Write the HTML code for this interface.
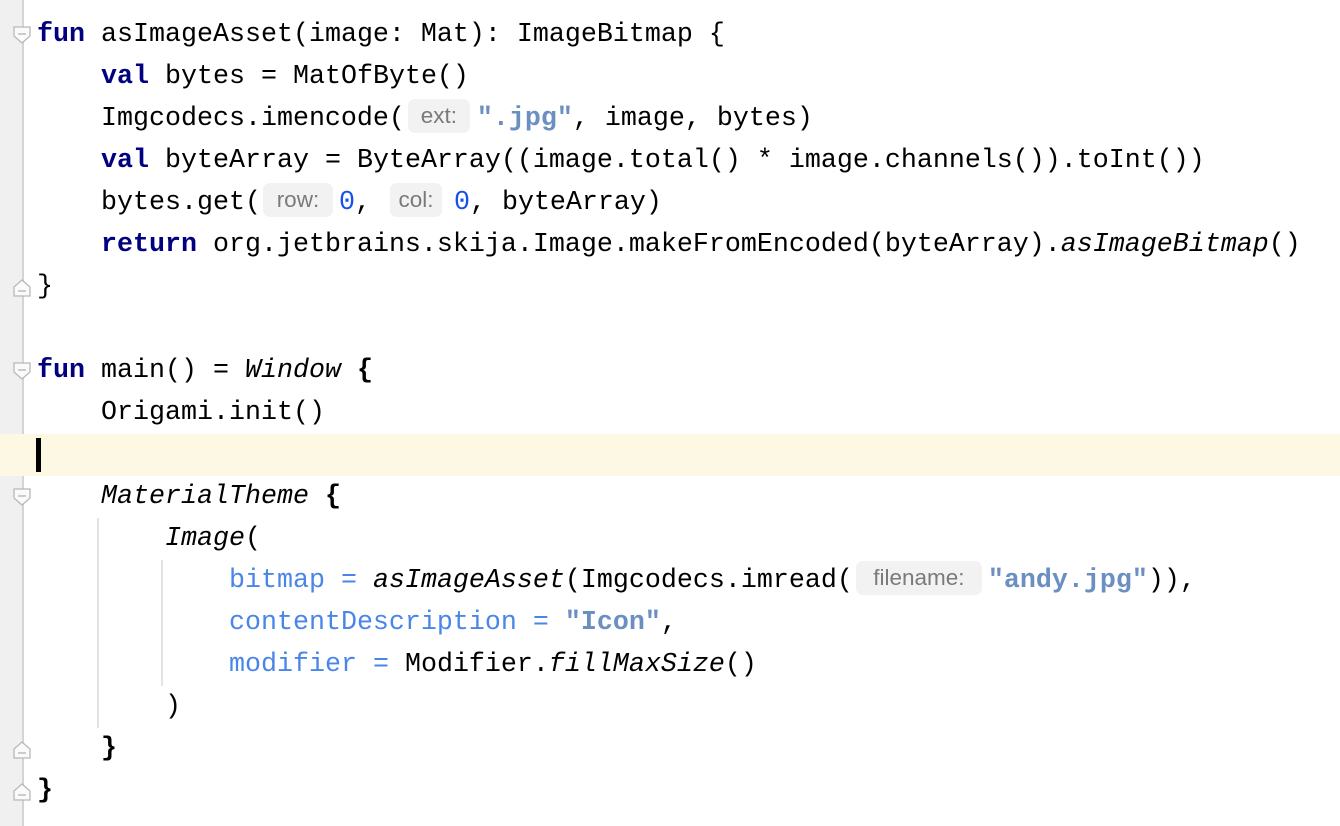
<!DOCTYPE html>
<html><head><meta charset="utf-8"><style>
body{margin:0;width:1340px;height:826px;background:#fff;position:relative;overflow:hidden;font-family:"Liberation Mono",monospace;}
.g{position:absolute;left:0;top:0;width:22px;height:826px;background:#f0f0f0;border-right:2px solid #d4d4d4;}
.hl{position:absolute;left:0;top:434px;width:1340px;height:42px;background:#fdf8e4;}
.l{position:absolute;left:37px;height:42px;line-height:42px;font-size:26.67px;color:#000;white-space:pre;}
.k{color:#000080;font-weight:bold}
.s{color:#6a8fc0;font-weight:bold}
.n{color:#1750eb}
.a{color:#4a86e8}
.i{font-style:italic}
.b{font-weight:bold}
.h{display:inline-block;height:34px;line-height:34px;vertical-align:middle;background:#f2f2f2;border-radius:7px;color:#7a7a7a;font-family:"Liberation Sans",sans-serif;font-size:22.5px;text-align:center;position:relative;top:-2px}
.ig{position:absolute;width:2px;background:#e4e4e4}
</style></head><body>
<div class="g"></div>
<div class="hl"></div>
<div style="position:absolute;left:36px;top:438px;width:5px;height:34px;background:#000"></div>
<div class="ig" style="left:97px;top:518px;height:210px"></div>
<div class="ig" style="left:161px;top:560px;height:126px"></div>
<svg style="position:absolute;left:0;top:0" width="40" height="826">
<g fill="#fafafa" stroke="#b8b8b8" stroke-width="1.3">
<path d="M14 27h16v9l-8 7l-8-7z"/><path d="M14 363h16v9l-8 7l-8-7z"/><path d="M14 489h16v9l-8 7l-8-7z"/>
<path d="M14 296h16v-9l-8-7l-8 7z"/><path d="M14 758h16v-9l-8-7l-8 7z"/><path d="M14 800h16v-9l-8-7l-8 7z"/>
</g>
<g stroke="#b0b0b0" stroke-width="1.3"><path d="M18 34h8M18 370h8M18 496h8M18 291h8M18 753h8M18 795h8"/></g>
</svg>
<div class="l" style="top:14px"><span class="k">fun</span> asImageAsset(image: Mat): ImageBitmap {</div>
<div class="l" style="top:56px">    <span class="k">val</span> bytes = MatOfByte()</div>
<div class="l" style="top:98px">    Imgcodecs.imencode(<span class="h" style="width:62px;margin-left:3px;margin-right:7px">ext:</span><span class="s">".jpg"</span>, image, bytes)</div>
<div class="l" style="top:140px">    <span class="k">val</span> byteArray = ByteArray((image.total() * image.channels()).toInt())</div>
<div class="l" style="top:182px">    bytes.get(<span class="h" style="width:70px;margin-left:2px;margin-right:6px">row:</span><span class="n">0</span>, <span class="h" style="width:52px;margin-left:3px;margin-right:12px">col:</span><span class="n">0</span>, byteArray)</div>
<div class="l" style="top:224px">    <span class="k">return</span> org.jetbrains.skija.Image.makeFromEncoded(byteArray).<span class="i">asImageBitmap</span>()</div>
<div class="l" style="top:266px">}</div>
<div class="l" style="top:350px"><span class="k">fun</span> main() = <span class="i">Window</span> <span class="b">{</span></div>
<div class="l" style="top:392px">    Origami.init()</div>
<div class="l" style="top:476px">    <span class="i">MaterialTheme</span> <span class="b">{</span></div>
<div class="l" style="top:518px">        <span class="i">Image</span>(</div>
<div class="l" style="top:560px">            <span class="a">bitmap</span> <span class="a">=</span> <span class="i">asImageAsset</span>(Imgcodecs.imread(<span class="h" style="width:126px;margin-left:3px;margin-right:6px">filename:</span><span class="s">"andy.jpg"</span>)),</div>
<div class="l" style="top:602px">            <span class="a">contentDescription</span> <span class="a">=</span> <span class="s">"Icon"</span>,</div>
<div class="l" style="top:644px">            <span class="a">modifier</span> <span class="a">=</span> Modifier.<span class="i">fillMaxSize</span>()</div>
<div class="l" style="top:686px">        )</div>
<div class="l" style="top:728px">    <span class="b">}</span></div>
<div class="l" style="top:770px"><span class="b">}</span></div>
</body></html>
